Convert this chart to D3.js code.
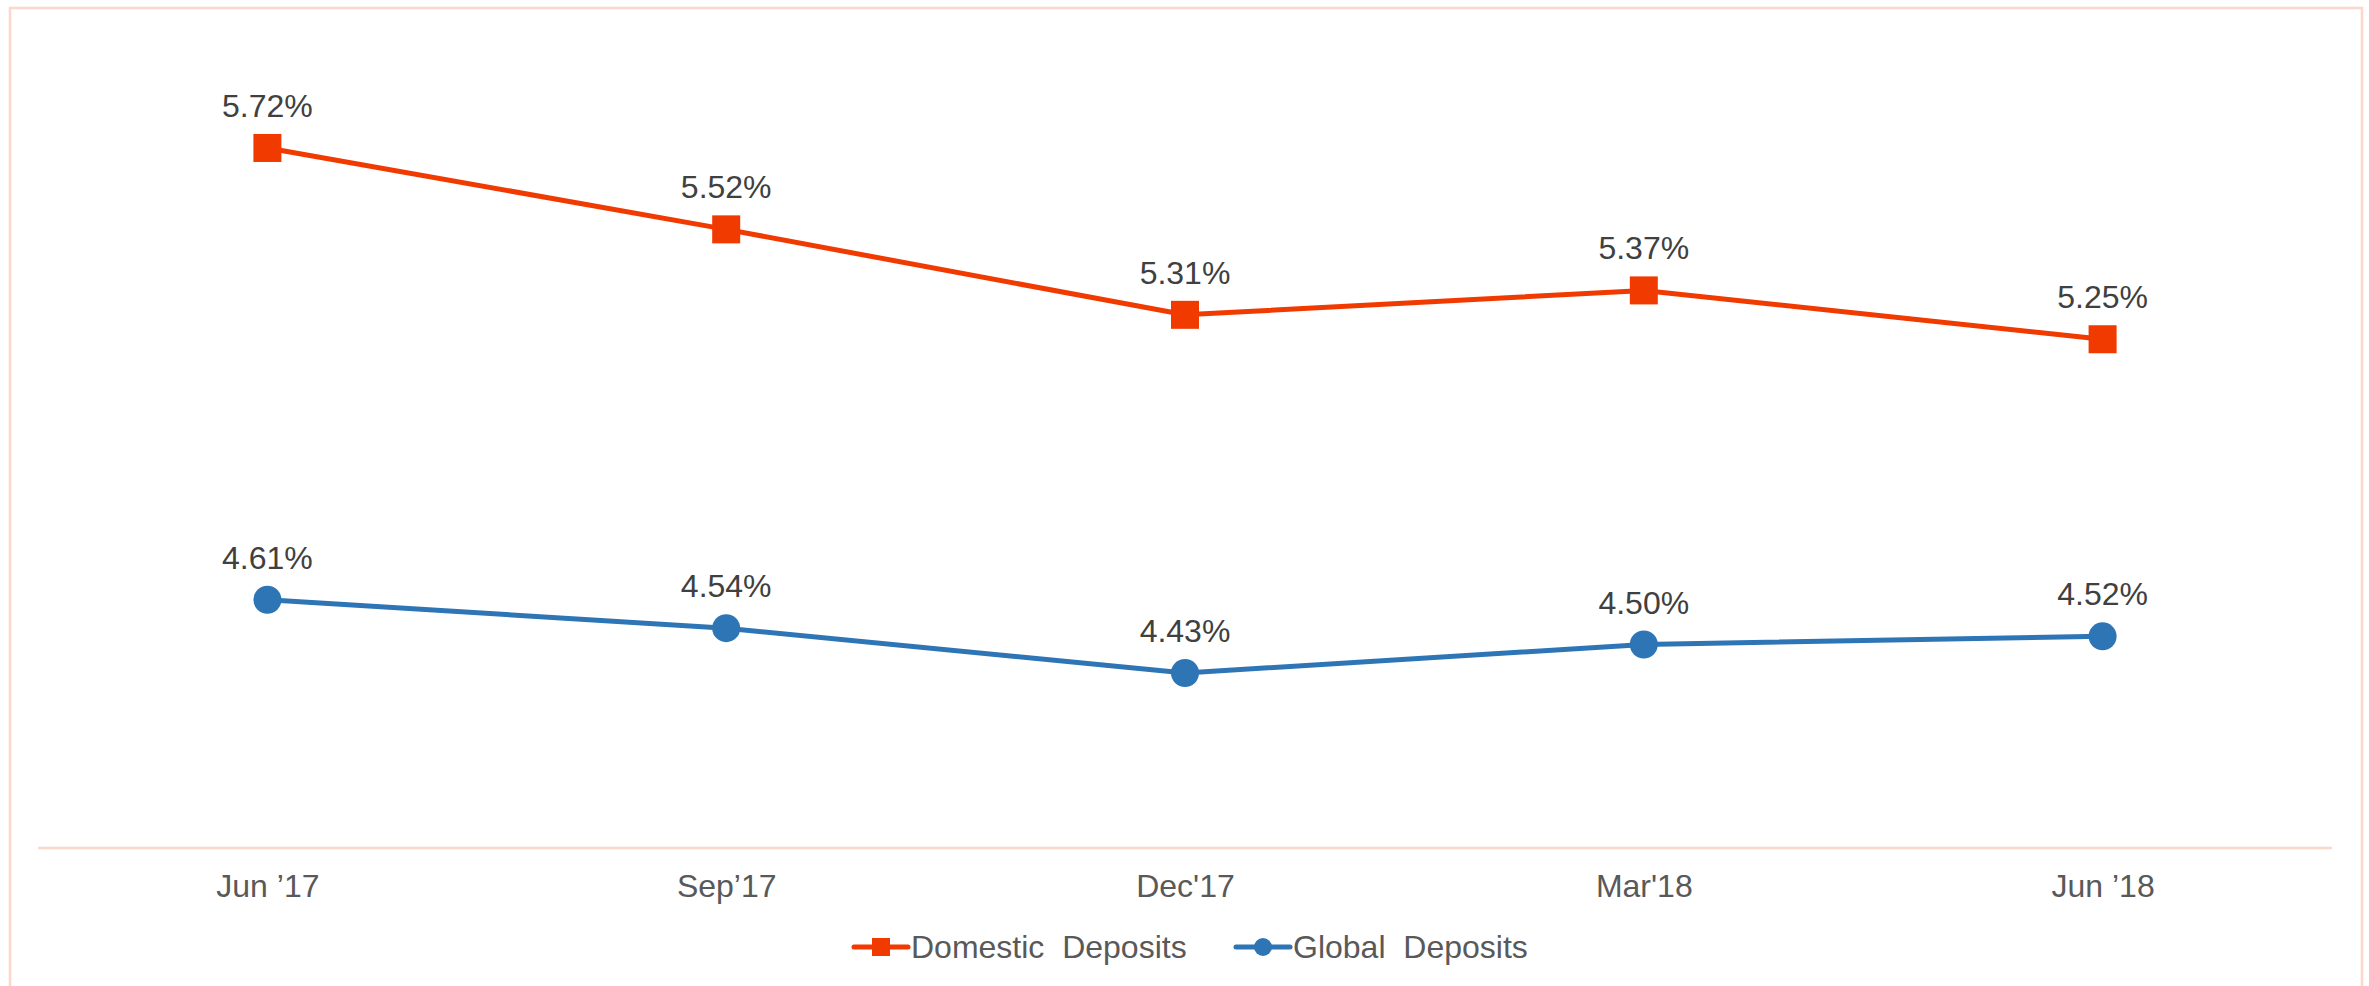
<!DOCTYPE html>
<html>
<head>
<meta charset="utf-8">
<script src="https://cdn.jsdelivr.net/npm/d3@7"></script>
<style>
  html, body { margin: 0; padding: 0; background: #ffffff; }
  svg { display: block; }
  text { font-family: "Liberation Sans", Arial, sans-serif; }
</style>
</head>
<body>
<svg id="chart" width="2369" height="986"></svg>
<script>
const categories = ["Jun \u201917", "Sep\u201917", "Dec'17", "Mar'18", "Jun \u201918"];
const domesticValues = [5.72, 5.52, 5.31, 5.37, 5.25];
const globalValues = [4.61, 4.54, 4.43, 4.50, 4.52];
const seriesNames = ["Domestic  Deposits", "Global  Deposits"];

const W = 2369, H = 986;
const svg = d3.select("#chart");

const red = "#F03A00", blue = "#2E75B6";
const pink = "#FCD8CC";

// outer border
svg.append("rect").attr("x", 10).attr("y", 8).attr("width", 2352).attr("height", 1000)
  .attr("fill", "none").attr("stroke", pink).attr("stroke-width", 2.5);

const x = d3.scalePoint().domain(categories).range([38, 2332]).padding(0.5);
const y = d3.scaleLinear().domain([4.0, 6.0]).range([848, 34]);

// x axis
const xAxis = d3.axisBottom(x).tickSize(0).tickPadding(0);
const gx = svg.append("g").attr("transform", "translate(0,848)").call(xAxis);
gx.select(".domain").attr("stroke", pink).attr("stroke-width", 2.5).attr("d", "M38,0H2332");
gx.selectAll(".tick text").attr("font-size", 32).attr("fill", "#595959")
  .attr("dy", null).attr("y", 49).attr("font-family", "Liberation Sans, Arial, sans-serif");

const series = [
  { name: seriesNames[0], values: domesticValues, color: red, shape: "square" },
  { name: seriesNames[1], values: globalValues, color: blue, shape: "circle" }
];

const line = d3.line().x((d, i) => x(categories[i])).y(d => y(d));

series.forEach(s => {
  const g = svg.append("g");
  g.append("path").datum(s.values).attr("d", line)
    .attr("fill", "none").attr("stroke", s.color).attr("stroke-width", 5);
  if (s.shape === "square") {
    g.selectAll("rect").data(s.values).join("rect")
      .attr("x", (d, i) => x(categories[i]) - 14).attr("y", d => y(d) - 14)
      .attr("width", 28).attr("height", 28).attr("fill", s.color);
  } else {
    g.selectAll("circle").data(s.values).join("circle")
      .attr("cx", (d, i) => x(categories[i])).attr("cy", d => y(d))
      .attr("r", 14).attr("fill", s.color);
  }
  g.selectAll("text.lbl").data(s.values).join("text").attr("class", "lbl")
    .attr("x", (d, i) => x(categories[i])).attr("y", d => y(d) - 31)
    .attr("text-anchor", "middle").attr("font-size", 32).attr("fill", "#404040")
    .text(d => d.toFixed(2) + "%");
});

// legend
const legendItems = [
  { s: series[0], x0: 854 },
  { s: series[1], x0: 1236 }
];
legendItems.forEach(it => {
  const g = svg.append("g").attr("transform", `translate(${it.x0},947)`);
  g.append("line").attr("x1", 0).attr("x2", 54).attr("y1", 0).attr("y2", 0)
    .attr("stroke", it.s.color).attr("stroke-width", 5).attr("stroke-linecap", "round");
  if (it.s.shape === "square") {
    g.append("rect").attr("x", 27 - 9).attr("y", -9).attr("width", 18).attr("height", 18).attr("fill", it.s.color);
  } else {
    g.append("circle").attr("cx", 27).attr("cy", 0).attr("r", 9).attr("fill", it.s.color);
  }
  g.append("text").attr("x", 57).attr("y", 11).attr("font-size", 32).attr("fill", "#595959")
    .attr("xml:space", "preserve").style("white-space", "pre").text(it.s.name);
});
</script>
</body>
</html>
